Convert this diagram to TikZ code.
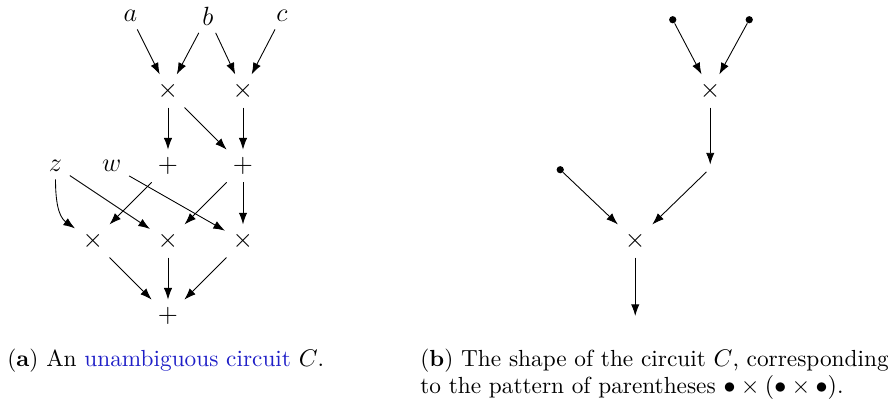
\documentclass[tikz,border=0pt]{standalone}
\usetikzlibrary{arrows.meta}
\definecolor{linkblue}{rgb}{0.12,0.12,0.78}
\tikzset{
  leaf/.style={circle,fill,inner sep=0pt,minimum size=3.3pt},
  joint/.style={inner sep=1.5pt},
  caption/.style={anchor=base west,inner sep=0pt,font=\fontsize{10.6}{12.7}\selectfont}
}
\begin{document}
\begin{tikzpicture}[x=1.2cm,y=1.2cm,>={Latex[length=5.3pt,width=3.8pt]},
    every node/.append style={font=\large}]
  \useasboundingbox (-1.24,-1.2) rectangle (10.6,4.213);
  % Circuito (a): ingressi
  \node (a) at (0.5,4) {$a$};
  \node (b) at (1.53,4) {$b$};
  \node (c) at (2.52,4) {$c$};
  \node (z) at (-0.5,2) {$z$};
  \node (w) at (0.25,2) {$w$};
  % Porte
  \node (m1) at (1,3) {$\times$};
  \node (m2) at (2,3) {$\times$};
  \node (s1) at (1,2) {$+$};
  \node (s2) at (2,2) {$+$};
  \node (p1) at (0,1) {$\times$};
  \node (p2) at (1,1) {$\times$};
  \node (p3) at (2,1) {$\times$};
  \node (out) at (1,0) {$+$};

  \draw[->] (a) -- (m1);
  \draw[->] (b) -- (m1);
  \draw[->] (b) -- (m2);
  \draw[->] (c) -- (m2);
  \draw[->] (m1) -- (s1);
  \draw[->] (m1) -- (s2);
  \draw[->] (m2) -- (s2);
  \draw[->] (s1) -- (p1);
  \draw[->] (s2) -- (p2);
  \draw[->] (s2) -- (p3);
  \draw[->] (z.south) to[out=-90,in=145] (p1);
  \draw[->] (z) -- (p2);
  \draw[->] (w) -- (p3);
  \draw[->] (p1) -- (out);
  \draw[->] (p2) -- (out);
  \draw[->] (p3) -- (out);

  % Forma (b)
  \begin{scope}[shift={(6.23,0)}]
    \node[leaf] (l1) at (1.5,3.95) {};
    \node[leaf] (l2) at (2.52,3.95) {};
    \node[leaf] (l3) at (0,1.95) {};
    \node (t1) at (2,3) {$\times$};
    \node[joint] (j) at (2,1.97) {};
    \node (t2) at (1,1) {$\times$};
    \coordinate (e) at (1,0);
    \draw[->] (l1) -- (t1);
    \draw[->] (l2) -- (t1);
    \draw[->] (t1) -- (j);
    \draw[->] (l3) -- (t2);
    \draw[->] (j) -- (t2);
    \draw[->] (t2) -- (e);
  \end{scope}

  % Didascalie
  \node[caption] (capa) at (-1.147,-0.68)
    {(\textbf{a}) An \textcolor{linkblue}{unambiguous circuit} $C$.};
  \node[caption] (capb1) at (4.36,-0.68)
    {(\textbf{b}) The shape of the circuit $C$, corresponding};
  \node[caption] (capb2) at (4.36,-1.04)
    {to the pattern of parentheses $\bullet\times(\bullet\times\bullet)$.};
\end{tikzpicture}
\end{document}
